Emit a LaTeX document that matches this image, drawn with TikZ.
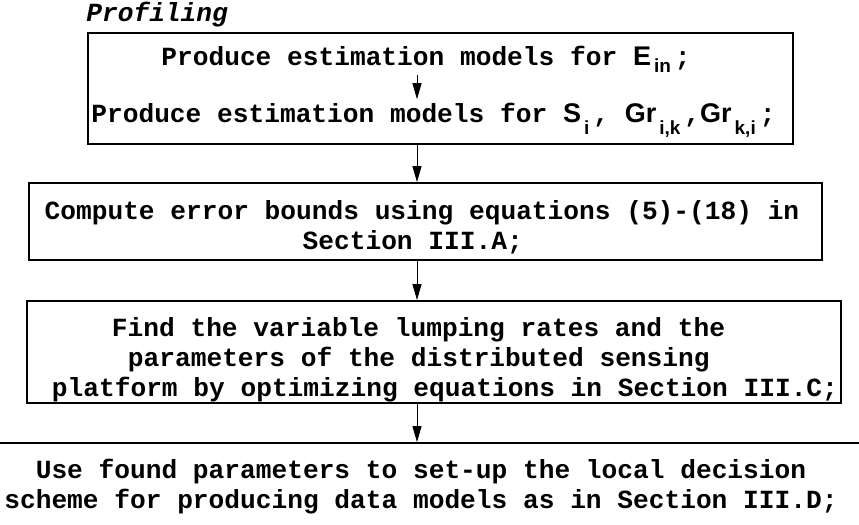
\documentclass[tikz,border=0pt]{standalone}
\usepackage{fontspec}
\setmainfont{Liberation Serif}
\setsansfont{Liberation Sans}
\setmonofont{Liberation Mono}
\usetikzlibrary{arrows.meta, positioning, calc}

% symbol with a lowered index, as in the profiling step
\newcommand{\symb}[3][6pt]{{\sffamily\bfseries\fontsize{13.5}{13.5}\selectfont #2}\hspace{1.5pt}\raisebox{-#1}{\sffamily\bfseries\fontsize{9.5}{9.5}\selectfont #3}\hspace{2pt}}

\begin{document}
\begin{tikzpicture}[
    x=0.5pt, y=-0.5pt,
    flowbox/.style={rectangle, draw=black, line width=0.9pt, inner sep=0pt},
    steptext/.style={inner sep=1.5pt, align=left, font=\ttfamily\bfseries\fontsize{13.1}{15}\selectfont},
    arrow/.style={-{Triangle[length=8pt, width=4.5pt]}, line width=0.5pt}
]
\useasboundingbox (0,0) rectangle (859,525);

% line on which the arrows run
\coordinate (spine) at (417,0);

% Profiling
\node[steptext, anchor=base west, font=\ttfamily\bfseries\itshape\fontsize{13.1}{15}\selectfont]
      (title) at (83,21) {Profiling};
\node[flowbox, minimum width=352.5pt, minimum height=55.5pt] (profile) at (440.5,88.5) {};
\node[steptext, anchor=base west] (prodE) at (158,65)
      {Produce estimation models for \symb[3.5pt]{E}{in};};
\node[steptext, anchor=base west] (prodS) at (88,122)
      {Produce estimation models for \symb{S}{i}, \symb{Gr}{i,k},\symb{Gr}{k,i};};
\draw[arrow] (prodE.south -| spine) -- (prodS.north -| spine);

% Error bounds
\node[flowbox, minimum width=396.5pt, minimum height=38.5pt] (bounds) at (425.5,221.5) {};
\node[steptext] (boundsText) at (422,227)
      {Compute error bounds using equations (5)-(18) in\\\hspace*{129pt}Section III.A;};

% Optimization
\node[flowbox, minimum width=407pt, minimum height=51pt] (optim) at (434,352) {};
\node[steptext] (optimText) at (434,360)
      {\hspace*{41pt}Find the variable lumping rates and the\\
       \hspace*{49pt}parameters of the distributed sensing\\
       \hspace*{11pt}platform by optimizing equations in Section III.C;};

% Local decision (box runs past the page)
\node[flowbox, minimum width=450pt, minimum height=44pt] (decide) at (421,487) {};
\node[steptext, align=center] (decideText) at (421,487)
      {Use found parameters to set-up the local decision\\scheme for producing data models as in Section III.D;};

% Arrows between the steps
\draw[arrow] (profile.south -| spine) -- (bounds.north -| spine);
\draw[arrow] (bounds.south -| spine) -- (optim.north -| spine);
\draw[arrow] (optim.south -| spine) -- (decide.north -| spine);

\end{tikzpicture}
\end{document}
